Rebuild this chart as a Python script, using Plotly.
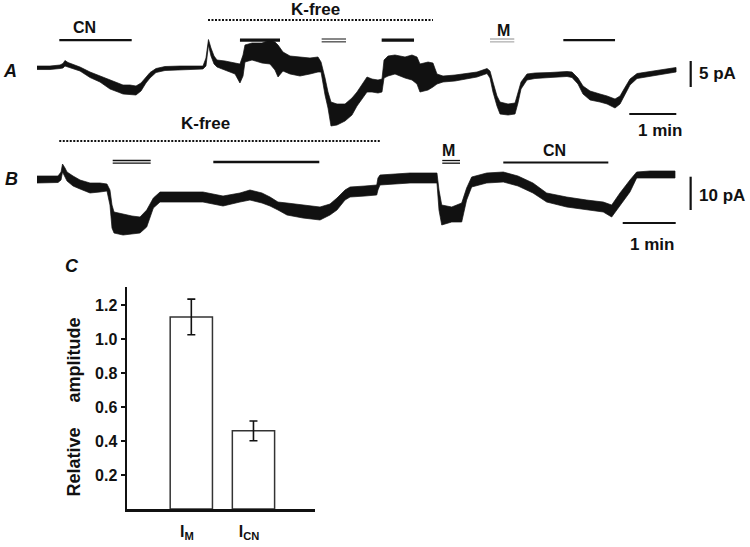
import plotly.graph_objects as go

# ---------------- Trace A (time in s, current in pA; upper / lower envelope) -------------
a_t = [0, 16.6, 29.4, 33.2, 35.7, 39.6, 44.7, 54.9, 67.7, 80.4, 93.2, 103.4, 109.8, 118.7,
       126.4, 132.8, 139.1, 144.3, 151.9, 163.4, 182.6, 211.9, 215.7, 218.9, 222.1, 226.0,
       229.8, 240.0, 252.8, 259.1, 263.0, 265.5, 274.5, 287.2, 297.4, 303.8, 307.7, 314.0,
       323.0, 335.7, 348.5, 358.7, 362.6, 367.7, 371.5, 375.3, 383.0, 393.2, 402.1, 408.5,
       414.9, 421.3, 427.7, 435.3, 440.4, 443.0, 448.1, 457.0, 469.8, 478.7, 485.1, 488.9,
       499.2, 505.5, 510.6, 518.3, 533.6, 546.4, 561.7, 574.5, 578.3, 582.1, 587.2, 591.1,
       601.3, 610.2, 614.0, 617.9, 625.5, 635.7, 654.9, 676.6, 683.0, 690.6, 697.0, 706.0,
       718.7, 727.7, 737.9, 744.3, 749.4, 757.0, 766.0, 786.4, 801.7, 815.8]
a_hi = [0.38, 0.38, 0.58, 0.87, 1.44, 1.06, 0.77, 0.19, -0.77, -1.54, -2.40, -2.88, -3.27, -3.27,
        -3.46, -2.88, -1.73, -0.87, -0.10, 0.29, 0.38, 0.38, 1.92, 5.48, 3.85, 2.31,
        1.54, 1.35, 0.96, 0.77, 2.50, 4.42, 4.81, 4.81, 5.38, 5.00, 4.42, 3.08,
        2.31, 2.12, 1.92, 2.12, 1.15, -1.92, -4.62, -6.54, -6.92, -6.92, -5.77, -4.62,
        -3.27, -1.73, -2.12, -2.31, -2.12, 1.54, 2.31, 2.50, 2.12, 2.50, 2.12, 0.77,
        1.15, 0.96, -1.15, -1.54, -1.35, -1.06, -0.77, -0.10, -0.58, -2.69, -5.38, -6.54,
        -6.92, -6.73, -4.81, -2.69, -1.15, -0.96, -0.87, -0.67, -0.77, -1.92, -3.46, -4.42,
        -5.00, -5.38, -5.96, -5.38, -4.04, -2.12, -1.06, -0.58, -0.19, 0.10]
a_lo = [-0.29, -0.29, -0.10, 0.0, 0.38, 0.19, 0.0, -0.58, -1.83, -2.69, -4.04, -4.62, -5.00, -5.10,
        -5.19, -4.42, -2.88, -1.92, -0.87, -0.48, -0.29, -0.19, 0.38, 4.42, 2.31, 0.77,
        0.19, -0.38, -1.15, -2.88, -1.54, 1.15, 1.54, 0.96, 0.77, -0.38, -1.73, -0.58,
        -1.15, -1.54, -1.15, -0.77, -0.77, -5.19, -7.69, -11.15, -10.96, -10.19, -9.04, -7.31,
        -5.96, -4.62, -4.62, -4.81, -4.62, -1.92, -1.54, -1.15, -1.92, -2.31, -3.08, -4.62,
        -4.23, -3.65, -3.08, -2.69, -2.50, -2.12, -1.73, -1.06, -1.92, -4.62, -7.31, -8.85,
        -9.04, -8.85, -6.73, -4.04, -2.31, -2.02, -1.83, -1.63, -1.83, -3.08, -5.00, -6.15,
        -6.54, -6.92, -7.69, -6.92, -5.58, -3.27, -2.02, -1.54, -1.15, -0.77]

# Drug application intervals for A (s)
a_cn = [(28.5, 120.9), (671.9, 737.9)]
a_kfree = (218.3, 505.5)
a_solid = [(259.1, 310.2), (440.0, 481.3)]
a_open = [(363.4, 394.5)]
a_m = (578.3, 609.3)
a_scale_t = 60    # s
a_scale_i = 5     # pA

# ---------------- Trace B -------------
b_t = [0, 23.8, 27.2, 28.9, 31.7, 34.0, 40.8, 48.7, 60.0, 71.3, 79.2, 82.6, 84.9, 87.2,
       97.4, 107.5, 116.6, 124.2, 131.7, 139.3, 161.9, 187.9, 210.6, 229.8, 241.1, 254.7,
       263.8, 272.8, 283.0, 301.1, 320.4, 331.7, 339.6, 348.7, 354.4, 371.3, 384.6, 386.0,
       388.3, 422.3, 452.8, 455.1, 458.2, 469.5, 480.8, 486.4, 492.1, 509.1, 527.9, 544.5,
       561.5, 577.0, 599.7, 622.3, 641.1, 650.6, 660.0, 671.3, 678.9, 694.0, 722.3]
b_hi = [0.90, 0.90, 2.10, 4.50, 3.30, 2.10, 0.90, -0.30, -1.20, -1.20, -1.50, -3.30, -7.81, -9.91,
        -10.51, -11.11, -11.41, -9.31, -5.71, -3.90, -3.90, -3.90, -5.11, -4.20, -3.30, -4.20,
        -5.41, -6.91, -7.21, -7.81, -8.41, -7.51, -5.71, -3.30, -2.40, -2.10, -1.80, 0.30,
        1.20, 1.80, 1.80, -3.30, -7.81, -8.41, -7.21, -2.70, 0.60, 1.80, 2.10, 0.90,
        -1.20, -4.20, -5.41, -6.31, -6.91, -7.81, -4.20, -0.30, 2.10, 2.40, 2.40]
b_lo = [-1.20, -1.05, -0.30, 2.10, 0.60, -0.60, -2.10, -3.00, -4.20, -3.90, -3.60, -7.81, -14.71, -16.22,
        -16.82, -16.52, -16.22, -14.41, -8.71, -6.91, -6.91, -6.91, -8.11, -6.91, -6.31, -7.21,
        -8.11, -9.31, -10.81, -11.71, -12.31, -10.81, -9.31, -6.31, -5.41, -5.11, -4.80, -3.30,
        -1.80, -1.20, -1.20, -9.31, -13.81, -12.91, -12.91, -6.31, -2.40, -1.20, -0.90, -2.10,
        -4.20, -6.91, -8.41, -9.31, -9.91, -11.41, -7.81, -3.90, 0.30, 0.30, 0.30]

b_kfree = (25.2, 388.3)
b_open = [(85.7, 128.7)]
b_solid = [(199.6, 319.6)]
b_m = (458.8, 478.9)
b_cn = (527.9, 646.8)
b_scale_t = 60    # s
b_scale_i = 10    # pA

# ---------------- Panel C -------------
c_labels = ["I<sub>M</sub>", "I<sub>CN</sub>"]
c_values = [1.13, 0.46]
c_errors = [0.105, 0.058]
c_ticks = [0.2, 0.4, 0.6, 0.8, 1.0, 1.2]

FONT = "Liberation Sans, Arial, Helvetica, sans-serif"
BLACK = "#111111"

fig = go.Figure()


def seg(x0, x1, y, xa, ya, width=2.0, color=BLACK, dash=None):
    fig.add_trace(go.Scatter(x=[x0, x1], y=[y, y], mode="lines", xaxis=xa, yaxis=ya,
                             line=dict(color=color, width=width, dash=dash),
                             hoverinfo="skip", showlegend=False))


def vseg(x, y0, y1, xa, ya, width=2.0):
    fig.add_trace(go.Scatter(x=[x, x], y=[y0, y1], mode="lines", xaxis=xa, yaxis=ya,
                             line=dict(color=BLACK, width=width),
                             hoverinfo="skip", showlegend=False))


def band(t, hi, lo, xa, ya):
    fig.add_trace(go.Scatter(x=list(t) + list(t[::-1]), y=list(hi) + list(lo[::-1]),
                             mode="lines", fill="toself", fillcolor=BLACK,
                             line=dict(color=BLACK, width=0.7), xaxis=xa, yaxis=ya,
                             hoverinfo="skip", showlegend=False))


annotations = []


def txt(x, y, s, xref, yref, size=17, xanchor="center", italic=False, angle=0):
    annotations.append(dict(x=x, y=y, xref=xref, yref=yref, text=s, showarrow=False,
                            xanchor=xanchor, yanchor="middle", textangle=angle,
                            font=dict(family=FONT, size=size, color=BLACK, weight="bold",
                                      style="italic" if italic else "normal")))


# ----- Panel A -----
band(a_t, a_hi, a_lo, "x", "y")
y_bar_a = 5.38
for s, e in a_cn:
    seg(s, e, y_bar_a, "x", "y", width=2.2)
for s, e in a_solid:
    seg(s, e, y_bar_a, "x", "y", width=3.2)
for s, e in a_open:
    seg(s, e, y_bar_a + 0.2, "x", "y", width=1.0)
    seg(s, e, y_bar_a - 0.35, "x", "y", width=1.0)
seg(a_m[0], a_m[1], y_bar_a + 0.2, "x", "y", width=1.0, color="#888888")
seg(a_m[0], a_m[1], y_bar_a - 0.35, "x", "y", width=1.2, color="#aaaaaa")
seg(a_kfree[0], a_kfree[1], 9.23, "x", "y", width=2.0, dash="2px,1.5px")
txt(60, 7.8, "CN", "x", "y", size=16)
txt(354.9, 11.35, "K-free", "x", "y")
txt(594.9, 7.3, "M", "x", "y", size=16)
# scale bars A
seg(756.1, 756.1 + a_scale_t, -8.85, "x", "y", width=2.0)
txt(795.3, -12.0, "1 min", "x", "y")
vseg(834.5, 1.35, 1.35 - a_scale_i, "x", "y", width=2.2)
txt(842.0, -1.0, "5 pA", "x", "y", xanchor="left")

# ----- Panel B -----
band(b_t, b_hi, b_lo, "x2", "y2")
y_bar_b = 5.1
for s, e in b_open:
    seg(s, e, y_bar_b + 0.45, "x2", "y2", width=1.3)
    seg(s, e, y_bar_b - 0.35, "x2", "y2", width=1.3)
for s, e in b_solid:
    seg(s, e, y_bar_b, "x2", "y2", width=2.6)
seg(b_m[0], b_m[1], y_bar_b + 0.45, "x2", "y2", width=1.3)
seg(b_m[0], b_m[1], y_bar_b - 0.35, "x2", "y2", width=1.3)
seg(b_cn[0], b_cn[1], 4.95, "x2", "y2", width=2.2)
seg(b_kfree[0], b_kfree[1], 11.41, "x2", "y2", width=2.0, dash="2px,1.5px")
txt(190.2, 16.8, "K-free", "x2", "y2")
txt(466.4, 8.7, "M", "x2", "y2", size=16)
txt(586.4, 8.7, "CN", "x2", "y2", size=16)
seg(663.1, 663.1 + b_scale_t, -13.21, "x2", "y2", width=2.0)
txt(696.2, -19.8, "1 min", "x2", "y2")
vseg(740.0, 0.69, 0.69 - b_scale_i, "x2", "y2", width=2.2)
txt(747.0, -5.1, "10 pA", "x2", "y2", xanchor="left")

# ----- Panel C -----
fig.add_trace(go.Bar(x=[1, 2], y=c_values, width=0.68, xaxis="x3", yaxis="y3",
                     marker=dict(color="white", line=dict(color="#333333", width=1.5)),
                     error_y=dict(type="data", array=c_errors, visible=True,
                                  color=BLACK, thickness=1.6, width=4),
                     hoverinfo="skip", showlegend=False))

# panel letters and C axis title
txt(10 / 750, 1 - 71 / 547, "A", "paper", "paper", size=18, italic=True)
txt(11.5 / 750, 1 - 179 / 547, "B", "paper", "paper", size=18, italic=True)
txt(72 / 750, 1 - 266 / 547, "C", "paper", "paper", size=18, italic=True)
txt(73 / 750, 1 - 407.5 / 547, "Relative\u00a0\u00a0\u00a0\u00a0\u00a0amplitude", "paper", "paper",
    size=18, angle=-90)

hidden = dict(visible=False, showgrid=False, zeroline=False, fixedrange=True)
fig.update_layout(
    width=750, height=547,
    margin=dict(l=0, r=0, t=0, b=0),
    paper_bgcolor="white", plot_bgcolor="rgba(0,0,0,0)",
    showlegend=False,
    annotations=annotations,
    xaxis=dict(domain=[0, 1], range=[-47.23, 910.2], anchor="y", **hidden),
    yaxis=dict(domain=[0, 1], range=[-92.12, 13.08], anchor="x", **hidden),
    xaxis2=dict(domain=[0, 1], range=[-41.89, 807.2], anchor="y2", **hidden),
    yaxis2=dict(domain=[0, 1], range=[-110.5, 53.75], anchor="x2", **hidden),
    xaxis3=dict(domain=[127 / 750, 315 / 750], range=[-0.035, 2.99], anchor="y3",
                showline=True, linecolor=BLACK, linewidth=2.5, showgrid=False, zeroline=False,
                tickmode="array", tickvals=[0.93, 1.93], ticktext=c_labels,
                ticks="outside", ticklen=6, tickcolor="rgba(0,0,0,0)",
                tickfont=dict(family=FONT, size=16, color=BLACK, weight="bold")),
    yaxis3=dict(domain=[1 - 509 / 547, 1 - 286.7 / 547], range=[0, 1.308], anchor="x3",
                showline=True, linecolor=BLACK, linewidth=2.5, showgrid=False, zeroline=False,
                tickmode="array", tickvals=c_ticks, ticktext=[f"{v:.1f}" for v in c_ticks],
                ticks="outside", ticklen=4, tickwidth=1.5, tickcolor=BLACK,
                tickfont=dict(family=FONT, size=16, color=BLACK, weight="bold")),
)

fig.write_html("out.html", config={"displayModeBar": False, "staticPlot": True},
               post_script="document.body.style.margin='0px';document.body.style.overflow='hidden';")
